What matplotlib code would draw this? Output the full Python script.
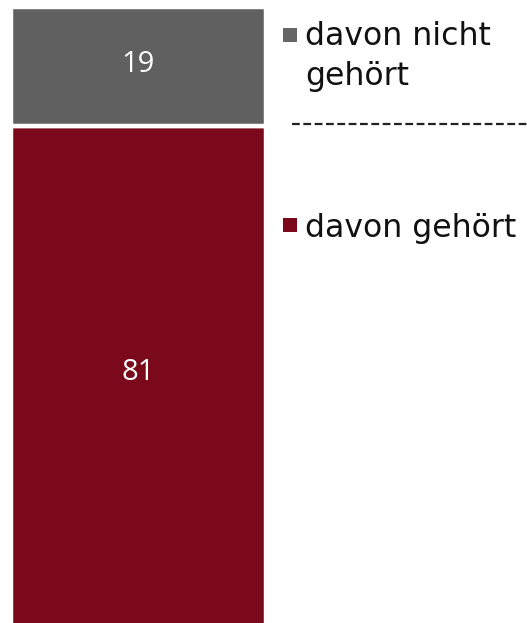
import matplotlib
matplotlib.use('Agg')
import matplotlib.pyplot as plt
from matplotlib.patches import Rectangle

# stacked shares (percent)
categories = ['davon gehört', 'davon nicht\ngehört']
values = [81, 19]
colors = ['#7a0a1b', '#606060']
value_labels = ['81', '19']

W, H = 527, 623
fig = plt.figure(figsize=(W / 100, H / 100), dpi=100)

# bar axes: one stacked column, bottom slightly cut off
ax = fig.add_axes([10.5 / W, 0, 255 / W, 1])
ax.set_xlim(-0.5, 0.5)
px_per_unit = 6.237
ax.set_ylim(100 - 616 / px_per_unit, 100 + 7 / px_per_unit)
ax.axis('off')

bottom = 0
ylo, yhi = ax.get_ylim()
for v, c, lab in zip(values, colors, value_labels):
    ax.bar(0, v, width=1.0, bottom=bottom, color=c, edgecolor='white',
           linewidth=3.2, zorder=2)
    top = bottom + v
    mid = (max(bottom, ylo) + min(top, yhi)) / 2
    ax.annotate(lab, (0, mid), xytext=(0, 1.5), textcoords='offset points',
                ha='center', va='center', color='white', fontsize=21,
                family='Open Sans')
    bottom = top

# legend drawn in pixel coordinates
lg = fig.add_axes([0, 0, 1, 1], facecolor='none')
lg.set_xlim(0, W)
lg.set_ylim(H, 0)
lg.axis('off')

# (label, colour, square centre y, baseline y of last line)
entries = [
    (categories[1], '#666666', 35.0, 85.0),
    (categories[0], colors[0], 225.0, 236.7),
]
for text, c, sq_y, base_y in entries:
    lg.add_patch(Rectangle((283, sq_y - 6.7), 13.5, 13.5, color=c, lw=0))
    lg.text(305, base_y, text, ha='left', va='baseline', fontsize=22.7,
            family='DejaVu Sans', color='#111111', linespacing=1.36)

# dashed separator between legend entries
lg.plot([292, W], [124, 124], color='#222222', lw=1.6, ls=(0, (3.5, 1.6)))

fig.savefig('out.png', dpi=100)
